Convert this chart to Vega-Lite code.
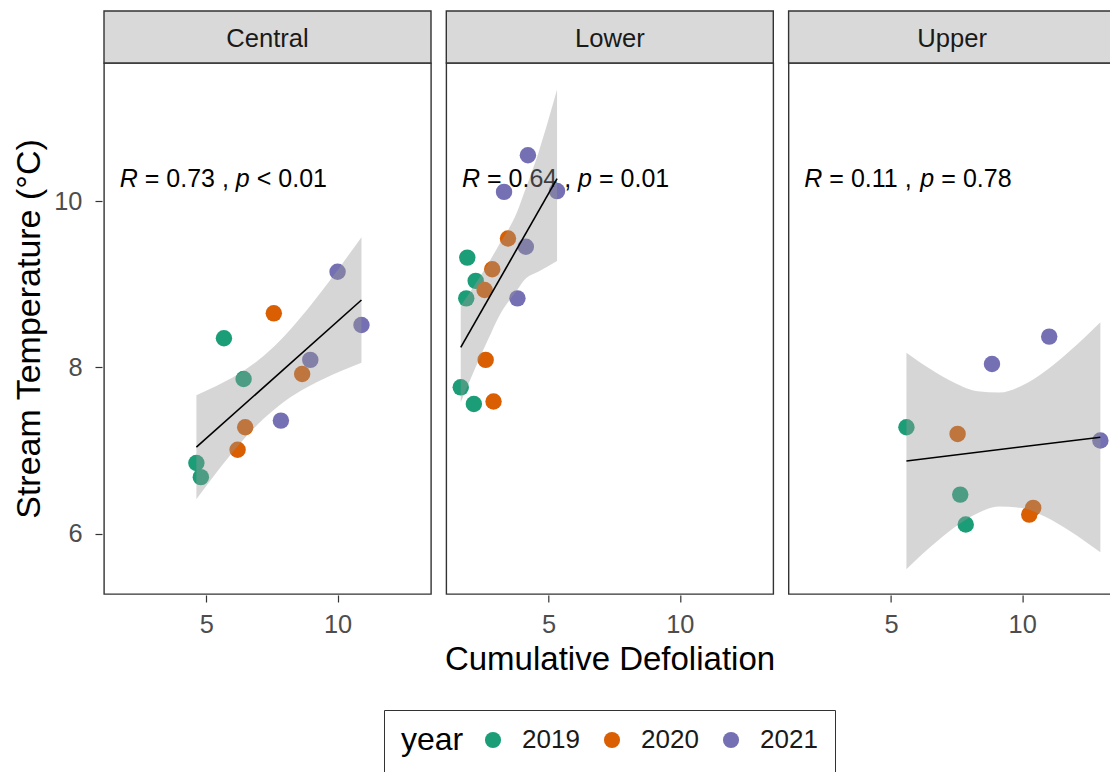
{
  "$schema": "https://vega.github.io/schema/vega-lite/v6.json",
  "padding": {"left": 12, "top": 9, "right": 0, "bottom": 0},
  "background": "white",
  "config": {
    "font": "Liberation Sans",
    "view": {"stroke": "#333333", "strokeWidth": 1.4},
    "axis": {
      "grid": false,
      "domain": false,
      "tickColor": "#333333",
      "tickWidth": 1.2,
      "tickSize": 7,
      "labelColor": "#4d4d4d",
      "labelFontSize": 25.4,
      "labelFont": "Liberation Sans",
      "titleFont": "Liberation Sans",
      "titleFontSize": 34,
      "titleFontWeight": "normal",
      "titleColor": "#000000"
    },
    "legend": {
      "titleFont": "Liberation Sans",
      "labelFont": "Liberation Sans"
    }
  },
  "data": {
    "values": [
      {"region": "Central", "kind": "stat", "r_txt": "= 0.73 ,", "p_txt": "< 0.01"},
      {"region": "Lower", "kind": "stat", "r_txt": "= 0.64 ,", "p_txt": "= 0.01"},
      {"region": "Upper", "kind": "stat", "r_txt": "= 0.11 ,", "p_txt": "= 0.78"},

      {"region": "Central", "kind": "point", "defoliation": 5.67, "temp": 8.35, "year": "2019"},
      {"region": "Central", "kind": "point", "defoliation": 7.57, "temp": 8.65, "year": "2020"},
      {"region": "Central", "kind": "point", "defoliation": 10.0, "temp": 9.15, "year": "2021"},
      {"region": "Central", "kind": "point", "defoliation": 10.91, "temp": 8.51, "year": "2021"},
      {"region": "Central", "kind": "point", "defoliation": 8.96, "temp": 8.09, "year": "2021"},
      {"region": "Central", "kind": "point", "defoliation": 8.65, "temp": 7.92, "year": "2020"},
      {"region": "Central", "kind": "point", "defoliation": 6.42, "temp": 7.86, "year": "2019"},
      {"region": "Central", "kind": "point", "defoliation": 7.84, "temp": 7.36, "year": "2021"},
      {"region": "Central", "kind": "point", "defoliation": 6.48, "temp": 7.28, "year": "2020"},
      {"region": "Central", "kind": "point", "defoliation": 6.19, "temp": 7.01, "year": "2020"},
      {"region": "Central", "kind": "point", "defoliation": 4.62, "temp": 6.85, "year": "2019"},
      {"region": "Central", "kind": "point", "defoliation": 4.79, "temp": 6.68, "year": "2019"},

      {"region": "Lower", "kind": "point", "defoliation": 4.21, "temp": 10.55, "year": "2021"},
      {"region": "Lower", "kind": "point", "defoliation": 3.30, "temp": 10.11, "year": "2021"},
      {"region": "Lower", "kind": "point", "defoliation": 5.32, "temp": 10.12, "year": "2021"},
      {"region": "Lower", "kind": "point", "defoliation": 3.45, "temp": 9.55, "year": "2020"},
      {"region": "Lower", "kind": "point", "defoliation": 4.13, "temp": 9.45, "year": "2021"},
      {"region": "Lower", "kind": "point", "defoliation": 1.90, "temp": 9.32, "year": "2019"},
      {"region": "Lower", "kind": "point", "defoliation": 2.85, "temp": 9.18, "year": "2020"},
      {"region": "Lower", "kind": "point", "defoliation": 2.22, "temp": 9.04, "year": "2019"},
      {"region": "Lower", "kind": "point", "defoliation": 2.56, "temp": 8.93, "year": "2020"},
      {"region": "Lower", "kind": "point", "defoliation": 1.86, "temp": 8.83, "year": "2019"},
      {"region": "Lower", "kind": "point", "defoliation": 3.81, "temp": 8.83, "year": "2021"},
      {"region": "Lower", "kind": "point", "defoliation": 2.60, "temp": 8.09, "year": "2020"},
      {"region": "Lower", "kind": "point", "defoliation": 1.65, "temp": 7.76, "year": "2019"},
      {"region": "Lower", "kind": "point", "defoliation": 2.15, "temp": 7.56, "year": "2019"},
      {"region": "Lower", "kind": "point", "defoliation": 2.90, "temp": 7.59, "year": "2020"},

      {"region": "Upper", "kind": "point", "defoliation": 11.03, "temp": 8.37, "year": "2021"},
      {"region": "Upper", "kind": "point", "defoliation": 8.85, "temp": 8.04, "year": "2021"},
      {"region": "Upper", "kind": "point", "defoliation": 5.59, "temp": 7.28, "year": "2019"},
      {"region": "Upper", "kind": "point", "defoliation": 7.54, "temp": 7.20, "year": "2020"},
      {"region": "Upper", "kind": "point", "defoliation": 12.98, "temp": 7.12, "year": "2021"},
      {"region": "Upper", "kind": "point", "defoliation": 7.64, "temp": 6.47, "year": "2019"},
      {"region": "Upper", "kind": "point", "defoliation": 10.42, "temp": 6.31, "year": "2020"},
      {"region": "Upper", "kind": "point", "defoliation": 10.27, "temp": 6.23, "year": "2020"},
      {"region": "Upper", "kind": "point", "defoliation": 7.85, "temp": 6.11, "year": "2019"},

      {"region": "Central", "kind": "fit", "defoliation": 4.62, "temp": 7.04},
      {"region": "Central", "kind": "fit", "defoliation": 10.91, "temp": 8.81},
      {"region": "Lower", "kind": "fit", "defoliation": 1.65, "temp": 8.24},
      {"region": "Lower", "kind": "fit", "defoliation": 5.32, "temp": 10.27},
      {"region": "Upper", "kind": "fit", "defoliation": 5.59, "temp": 6.875},
      {"region": "Upper", "kind": "fit", "defoliation": 12.98, "temp": 7.16},

      {"region": "Central", "kind": "band", "defoliation": 4.62, "lo": 6.415, "hi": 7.665},
      {"region": "Central", "kind": "band", "defoliation": 5.4, "lo": 6.742, "hi": 7.778},
      {"region": "Central", "kind": "band", "defoliation": 6.2, "lo": 7.054, "hi": 7.916},
      {"region": "Central", "kind": "band", "defoliation": 7.0, "lo": 7.328, "hi": 8.092},
      {"region": "Central", "kind": "band", "defoliation": 7.8, "lo": 7.549, "hi": 8.321},
      {"region": "Central", "kind": "band", "defoliation": 8.6, "lo": 7.718, "hi": 8.602},
      {"region": "Central", "kind": "band", "defoliation": 9.4, "lo": 7.852, "hi": 8.918},
      {"region": "Central", "kind": "band", "defoliation": 10.2, "lo": 7.964, "hi": 9.256},
      {"region": "Central", "kind": "band", "defoliation": 10.91, "lo": 8.055, "hi": 9.565},

      {"region": "Lower", "kind": "band", "defoliation": 1.65, "lo": 7.58, "hi": 8.74},
      {"region": "Lower", "kind": "band", "defoliation": 2.2, "lo": 7.99, "hi": 9.0},
      {"region": "Lower", "kind": "band", "defoliation": 2.7, "lo": 8.34, "hi": 9.25},
      {"region": "Lower", "kind": "band", "defoliation": 3.1, "lo": 8.61, "hi": 9.47},
      {"region": "Lower", "kind": "band", "defoliation": 3.8, "lo": 8.93, "hi": 9.87},
      {"region": "Lower", "kind": "band", "defoliation": 4.1, "lo": 9.06, "hi": 10.13},
      {"region": "Lower", "kind": "band", "defoliation": 4.6, "lo": 9.15, "hi": 10.57},
      {"region": "Lower", "kind": "band", "defoliation": 5.32, "lo": 9.28, "hi": 11.34},

      {"region": "Upper", "kind": "band", "defoliation": 5.59, "lo": 5.574, "hi": 8.176},
      {"region": "Upper", "kind": "band", "defoliation": 6.5, "lo": 5.84, "hi": 7.98},
      {"region": "Upper", "kind": "band", "defoliation": 7.4, "lo": 6.072, "hi": 7.818},
      {"region": "Upper", "kind": "band", "defoliation": 8.3, "lo": 6.247, "hi": 7.713},
      {"region": "Upper", "kind": "band", "defoliation": 9.13, "lo": 6.326, "hi": 7.698},
      {"region": "Upper", "kind": "band", "defoliation": 10.0, "lo": 6.308, "hi": 7.782},
      {"region": "Upper", "kind": "band", "defoliation": 10.9, "lo": 6.2, "hi": 7.96},
      {"region": "Upper", "kind": "band", "defoliation": 11.8, "lo": 6.036, "hi": 8.194},
      {"region": "Upper", "kind": "band", "defoliation": 12.98, "lo": 5.776, "hi": 8.544}
    ]
  },
  "facet": {
    "column": {
      "field": "region",
      "type": "nominal",
      "header": {
        "labels": false,
        "title": "Cumulative Defoliation",
        "titleOrient": "bottom",
        "titleFont": "Liberation Sans",
        "titleFontSize": 33,
        "titleFontWeight": "normal",
        "titleColor": "#000000",
        "titlePadding": -4
      }
    }
  },
  "spacing": 11.3,
  "spec": {
    "width": 327,
    "height": 531,
    "layer": [
      {
        "transform": [{"filter": "datum.kind === 'stat'"}],
        "mark": {"type": "rect", "fill": "#d9d9d9", "stroke": "#333333", "strokeWidth": 1.4, "clip": false},
        "encoding": {
          "x": {"datum": 1.1, "type": "quantitative"},
          "x2": {"datum": 13.56},
          "y": {"datum": 11.66, "type": "quantitative"},
          "y2": {"datum": 12.285}
        }
      },
      {
        "transform": [{"filter": "datum.kind === 'stat'"}],
        "mark": {"type": "text", "fontSize": 25.6, "color": "#1a1a1a", "baseline": "middle", "align": "center", "dy": 1.5, "clip": false},
        "encoding": {
          "x": {"datum": 7.33, "type": "quantitative"},
          "y": {"datum": 11.97, "type": "quantitative"},
          "text": {"field": "region", "type": "nominal"}
        }
      },
      {
        "transform": [{"filter": "datum.kind === 'point'"}],
        "mark": {"type": "circle", "size": 270, "opacity": 1},
        "encoding": {
          "x": {
            "field": "defoliation", "type": "quantitative",
            "scale": {"domain": [1.1, 13.56], "nice": false, "zero": false},
            "axis": {"values": [5, 10], "format": "d", "title": null, "labelPadding": 10}
          },
          "y": {
            "field": "temp", "type": "quantitative",
            "scale": {"domain": [5.275, 11.66], "nice": false, "zero": false},
            "axis": {"values": [6, 8, 10], "format": "d", "title": "Stream Temperature (°C)", "labelPadding": 13, "titlePadding": 7}
          },
          "color": {
            "field": "year", "type": "nominal",
            "scale": {"domain": ["2019", "2020", "2021"], "range": ["#1b9e77", "#d95f02", "#7570b3"]},
            "legend": {
              "orient": "none",
              "legendX": 280,
              "legendY": 647,
              "direction": "horizontal",
              "title": "year",
              "titleOrient": "left",
              "titleFontSize": 32,
              "titleFontWeight": "normal",
              "titleColor": "#000000",
              "titlePadding": 16,
              "labelFontSize": 26,
              "labelColor": "#1a1a1a",
              "labelOffset": 16,
              "columnPadding": 19,
              "symbolType": "circle",
              "symbolSize": 260,
              "symbolStrokeWidth": 0,
              "symbolOpacity": 1,
              "padding": 17,
              "strokeColor": "#333333"
            }
          }
        }
      },
      {
        "transform": [{"filter": "datum.kind === 'stat'"}],
        "mark": {"type": "text", "align": "left", "baseline": "alphabetic", "fontSize": 25, "fontStyle": "italic", "color": "#000000"},
        "encoding": {"x": {"datum": 1.7, "type": "quantitative"}, "y": {"datum": 10.17, "type": "quantitative"}, "text": {"value": "R"}}
      },
      {
        "transform": [{"filter": "datum.kind === 'stat'"}],
        "mark": {"type": "text", "align": "left", "baseline": "alphabetic", "fontSize": 25, "dx": 25, "color": "#000000"},
        "encoding": {"x": {"datum": 1.7, "type": "quantitative"}, "y": {"datum": 10.17, "type": "quantitative"}, "text": {"field": "r_txt"}}
      },
      {
        "transform": [{"filter": "datum.kind === 'stat'"}],
        "mark": {"type": "text", "align": "left", "baseline": "alphabetic", "fontSize": 25, "fontStyle": "italic", "dx": 116, "color": "#000000"},
        "encoding": {"x": {"datum": 1.7, "type": "quantitative"}, "y": {"datum": 10.17, "type": "quantitative"}, "text": {"value": "p"}}
      },
      {
        "transform": [{"filter": "datum.kind === 'stat'"}],
        "mark": {"type": "text", "align": "left", "baseline": "alphabetic", "fontSize": 25, "dx": 137, "color": "#000000"},
        "encoding": {"x": {"datum": 1.7, "type": "quantitative"}, "y": {"datum": 10.17, "type": "quantitative"}, "text": {"field": "p_txt"}}
      },
      {
        "transform": [{"filter": "datum.kind === 'band'"}],
        "mark": {"type": "area", "color": "#999999", "opacity": 0.4, "interpolate": "monotone"},
        "encoding": {
          "x": {"field": "defoliation", "type": "quantitative"},
          "y": {"field": "lo", "type": "quantitative"},
          "y2": {"field": "hi"}
        }
      },
      {
        "transform": [{"filter": "datum.kind === 'fit'"}],
        "mark": {"type": "line", "color": "#000000", "strokeWidth": 1.6},
        "encoding": {
          "x": {"field": "defoliation", "type": "quantitative"},
          "y": {"field": "temp", "type": "quantitative"}
        }
      }
    ]
  }
}
